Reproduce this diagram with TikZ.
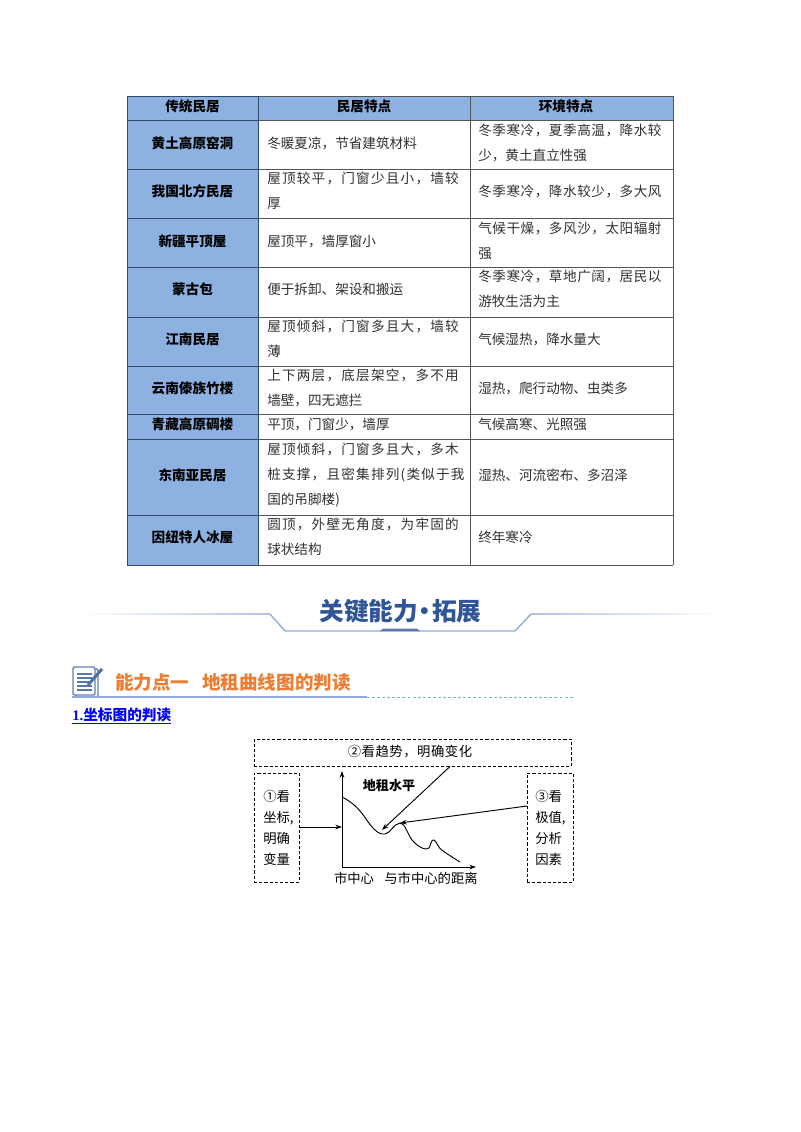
\documentclass[tikz,border=0pt]{standalone}
\usepackage{fontspec}
\setmainfont{Noto Sans CJK SC}
\newfontfamily\widefont[LetterSpace=9]{Noto Sans CJK SC}
\newfontfamily\halffont[LetterSpace=4]{Noto Sans CJK SC}
\newfontfamily\latinfont{Liberation Serif}
\usetikzlibrary{arrows.meta}
\definecolor{cellblue}{HTML}{8DB1E1}
\definecolor{gridgray}{HTML}{555555}
\definecolor{griddark}{HTML}{2F4A6B}
\definecolor{titleblue}{HTML}{2F5597}
\definecolor{ruleblue}{HTML}{8FAADC}
\definecolor{headorange}{HTML}{ED7D31}
\definecolor{celltext}{HTML}{303030}
\newcommand{\wideline}[1]{{\widefont #1}}
\newcommand{\halfline}[1]{{\halffont #1}}

\begin{document}
\begin{tikzpicture}[x=0.75pt,y=-0.75pt,>={Stealth[length=5pt,width=3.5pt]},
  head cell/.style={font=\fontsize{10.2pt}{12pt}\selectfont\bfseries,inner sep=0pt,text=black},
  body cell/.style={font=\fontsize{10.2pt}{18.75pt}\selectfont,inner sep=0pt,anchor=west,align=left,text=celltext},
  dash box/.style={draw,dashed,line width=0.65pt,dash pattern=on 2.4pt off 1.5pt},
  chart text/.style={font=\fontsize{10pt}{15.75pt}\selectfont,inner sep=0pt,align=left},
  chart line/.style={line width=0.7pt}]

  \useasboundingbox (0,0) rectangle (800,1132);

  % table
  \fill[cellblue] (127,96) rectangle (258,565);
  \fill[cellblue] (258,96) rectangle (673,120.5);
  \foreach \y in {96,120.5,169,218.5,267,317,366,414.5,439.5,515,565}
    \draw[griddark,line width=0.6pt] (127,\y) -- (258,\y);
  \foreach \y in {96,120.5,169,218.5,267,317,366,414.5,439.5,515,565}
    \draw[gridgray,line width=0.6pt] (258,\y) -- (673,\y);
  \foreach \x in {127,258}
    \draw[griddark,line width=0.7pt] (\x,96) -- (\x,565);
  \foreach \x in {470,673}
    \draw[gridgray,line width=0.7pt] (\x,96) -- (\x,565);

  \node[head cell] (h1) at (192.5,106) {传统民居};
  \node[head cell] (h2) at (364,106) {民居特点};
  \node[head cell] (h3) at (566,106) {环境特点};

  \node[head cell] (r1) at (192.5,143) {黄土高原窑洞};
  \node[head cell] (r2) at (192.5,191) {我国北方民居};
  \node[head cell] (r3) at (192.5,241) {新疆平顶屋};
  \node[head cell] (r4) at (192.5,289) {蒙古包};
  \node[head cell] (r5) at (192.5,339) {江南民居};
  \node[head cell] (r6) at (192.5,388) {云南傣族竹楼};
  \node[head cell] (r7) at (192.5,424) {青藏高原碉楼};
  \node[head cell] (r8) at (192.5,475) {东南亚民居};
  \node[head cell] (r9) at (192.5,537) {因纽特人冰屋};

  \node[body cell] (a1) at (267,143) {冬暖夏凉，节省建筑材料};
  \node[body cell] (a2) at (267,191) {\wideline{屋顶较平，门窗少且小，墙较}\\厚};
  \node[body cell] (a3) at (267,241) {屋顶平，墙厚窗小};
  \node[body cell] (a4) at (267,289) {便于拆卸、架设和搬运};
  \node[body cell] (a5) at (267,339) {\wideline{屋顶倾斜，门窗多且大，墙较}\\薄};
  \node[body cell] (a6) at (267,388) {\wideline{上下两层，底层架空，多不用}\\墙壁，四无遮拦};
  \node[body cell] (a7) at (267,424) {平顶，门窗少，墙厚};
  \node[body cell] (a8) at (267,475) {\wideline{屋顶倾斜，门窗多且大，多木}\\\wideline{桩支撑，且密集排列(类似于我}\\国的吊脚楼)};
  \node[body cell] (a9) at (267,537) {\wideline{圆顶，外壁无角度，为牢固的}\\球状结构};

  \node[body cell] (b1) at (478,143) {\halfline{冬季寒冷，夏季高温，降水较}\\少，黄土直立性强};
  \node[body cell] (b2) at (478,191) {\halfline{冬季寒冷，降水较少，多大风}};
  \node[body cell] (b3) at (478,241) {\halfline{气候干燥，多风沙，太阳辐射}\\强};
  \node[body cell] (b4) at (478,289) {\halfline{冬季寒冷，草地广阔，居民以}\\游牧生活为主};
  \node[body cell] (b5) at (478,339) {气候湿热，降水量大};
  \node[body cell] (b6) at (478,388) {湿热，爬行动物、虫类多};
  \node[body cell] (b7) at (478,424) {气候高寒、光照强};
  \node[body cell] (b8) at (478,475) {湿热、河流密布、多沼泽};
  \node[body cell] (b9) at (478,537) {终年寒冷};

  % banner
  \shade[left color=white,right color=ruleblue!70] (80,613.5) rectangle (270,614.8);
  \shade[left color=ruleblue!70,right color=white] (531,613.5) rectangle (722,614.8);
  \draw[ruleblue,line width=1pt] (270,614) -- (285,631) -- (515,631) -- (531,614);
  \fill[titleblue!80] (380,631) -- (383,628.5) -- (417,628.5) -- (420,631) -- cycle;
  \node[font=\fontsize{18.5pt}{20pt}\selectfont\bfseries,text=titleblue,inner sep=0pt] (banner) at (400.5,611) {关键能力\hspace{-0.22em}·\hspace{-0.22em}拓展};

  % heading
  \draw[titleblue!75,rounded corners=1pt,line width=1pt,fill=white] (76,669) rectangle (98,697);
  \draw[titleblue!75,rounded corners=1pt,line width=1pt,fill=white] (73,667) rectangle (95,695);
  \foreach \y in {674,678,682,686,690}
    \draw[titleblue!80,line width=1pt] (77,\y) -- (92,\y);
  \draw[titleblue!85,line width=2.2pt] (88,685) -- (102,669);
  \node[font=\fontsize{13.9pt}{16pt}\selectfont\bfseries,text=headorange,inner sep=0pt,anchor=west] (heading) at (115,682) {能力点一\hspace{0.7em}地租曲线图的判读};
  \draw[ruleblue,line width=0.9pt] (72,697) -- (367,697);
  \draw[ruleblue,line width=0.7pt,dashed,dash pattern=on 2.2pt off 1.6pt] (367,697) -- (573,697);
  \node[font=\fontsize{11pt}{13pt}\selectfont\bfseries,text=blue,inner sep=0pt,anchor=west] (sub) at (72,716) {\underline{{\latinfont 1.}坐标图的判读}};

  % chart
  \node[dash box,minimum width=237.75pt,minimum height=20.25pt,inner sep=0pt] (topbox) at (412.5,752.5) {};
  \node[dash box,minimum width=33.75pt,minimum height=81.75pt,inner sep=0pt] (leftbox) at (276.5,827.5) {};
  \node[dash box,minimum width=34.5pt,minimum height=81.75pt,inner sep=0pt] (rightbox) at (550,827.5) {};
  \node[chart text] (toptext) at (410,752) {\halfline{②看趋势，明确变化}};
  \node[chart text,anchor=west] (lefttext) at (263,828) {①看\\坐标,\\明确\\变量};
  \node[chart text,anchor=west] (righttext) at (535,828) {③看\\极值,\\分析\\因素};
  \node[chart text,font=\fontsize{9.8pt}{12pt}\selectfont\bfseries] (level) at (389,786) {地租水平};
  \node[chart text] (center) at (354,878) {市中心};
  \node[chart text] (dist) at (431,878) {与市中心的距离};

  \coordinate (origin) at (342,867);
  \coordinate (ytop) at (342,771);
  \coordinate (xend) at (476,867);
  \coordinate (trendstart) at (450,766.5);
  \coordinate (trough) at (382,830);
  \coordinate (peak) at (400,823);
  \coordinate (rightstart) at (527,806);
  \coordinate (yhit) at (342,827);
  \draw[chart line,->] (origin) -- (ytop);
  \draw[chart line,->] (origin) -- (xend);
  \draw[chart line] (342,797) .. controls (352,802) and (358,808) .. (364,816)
    .. controls (372,828) and (378,835) .. (385,834)
    .. controls (391,833) and (393,824) .. (400,823)
    .. controls (405,823) and (407,833) .. (412,840)
    .. controls (418,847) and (426,851) .. (429,848)
    .. controls (431,845) and (431,839) .. (434,840)
    .. controls (437,842) and (438,848) .. (443,851)
    .. controls (449,855) and (455,859) .. (460,862);
  \draw[chart line,->] (trendstart) -- (trough);
  \draw[chart line,->] (rightstart) -- (peak);
  \draw[chart line,->] (leftbox.east |- yhit) -- (yhit);
\end{tikzpicture}
\end{document}
